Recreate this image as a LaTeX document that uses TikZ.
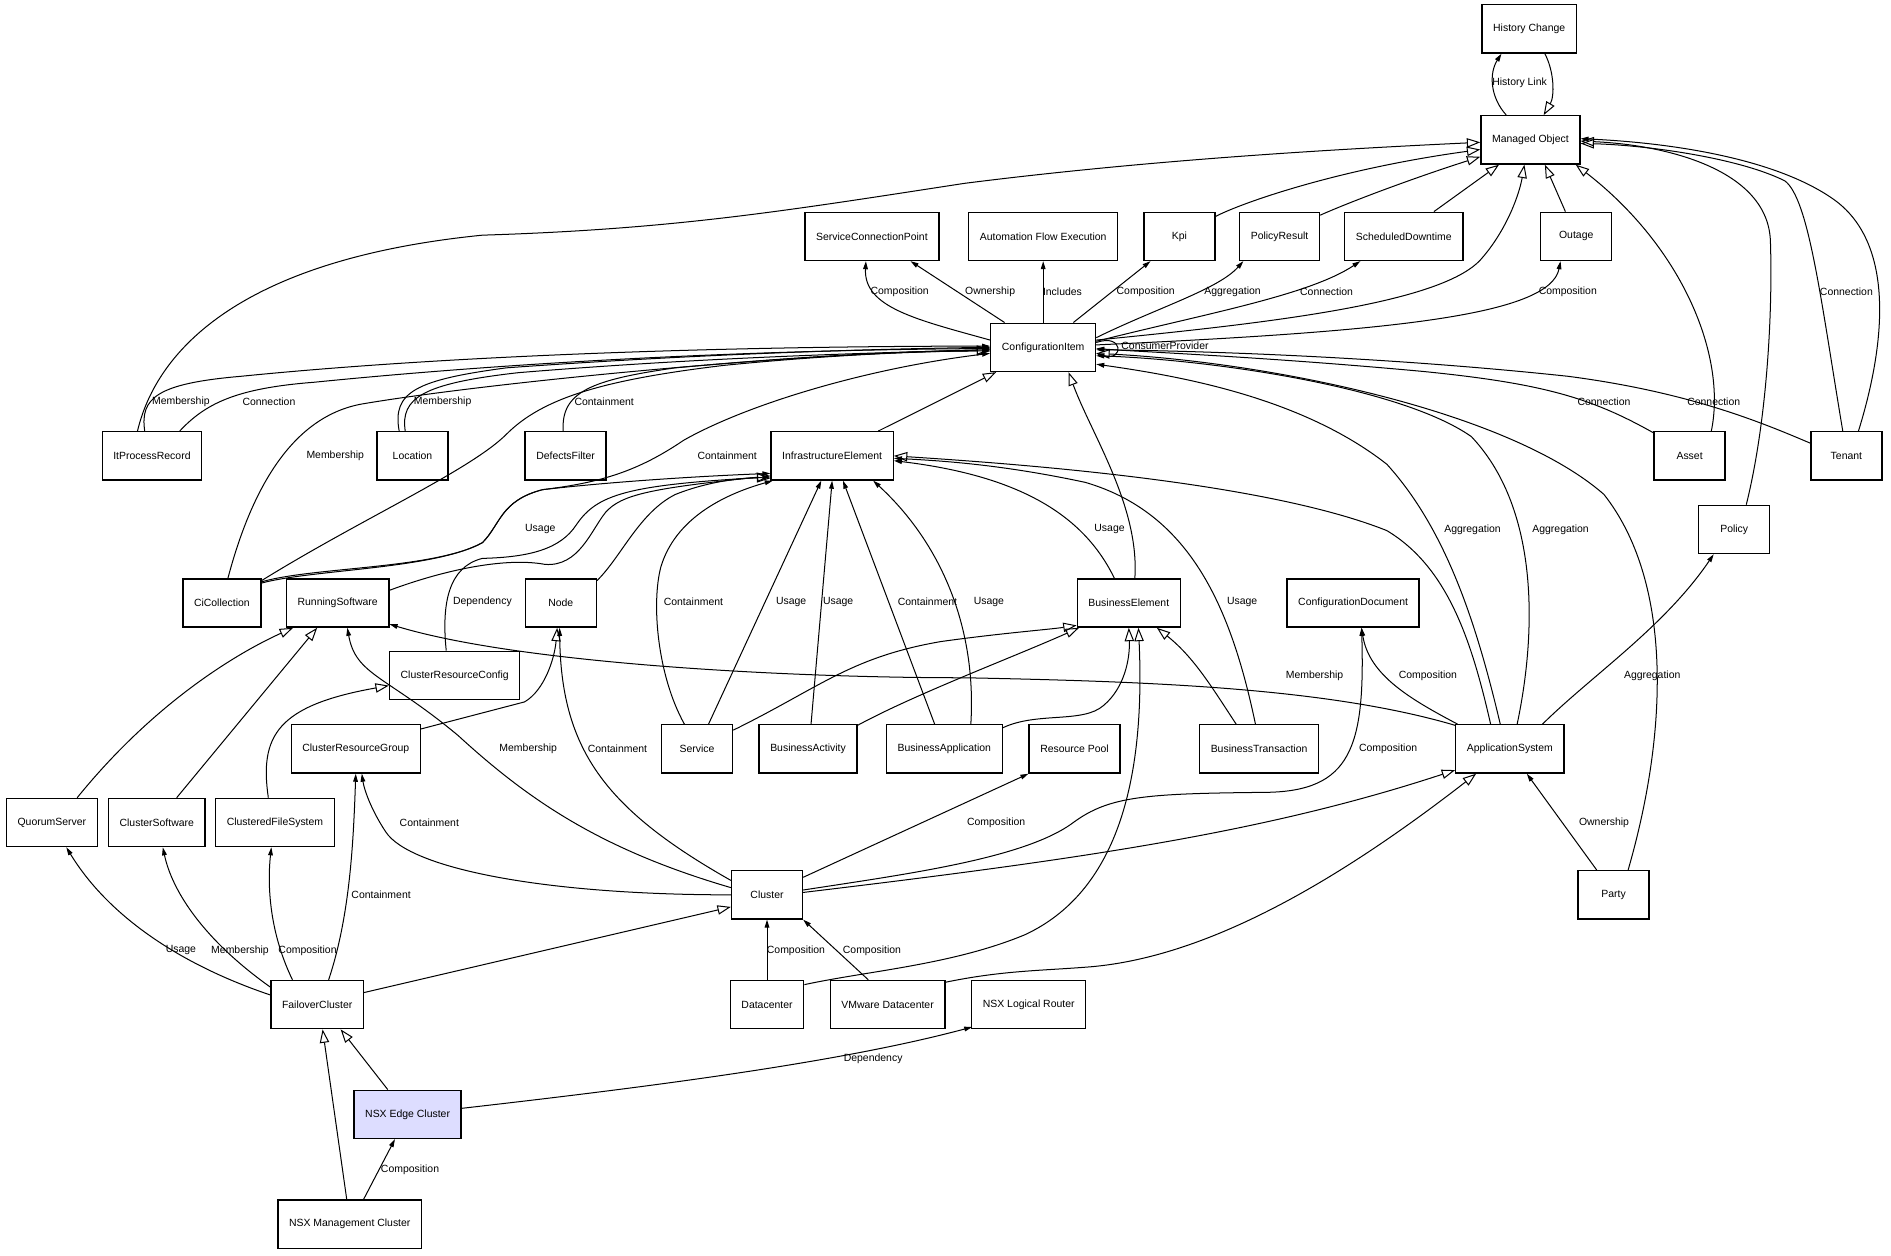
\documentclass[tikz,border=0pt]{standalone}
\usepackage{fontspec}
\setmainfont{Liberation Sans}
\usepackage{tikz}
\usetikzlibrary{calc, positioning, arrows.meta}
\definecolor{nsxfill}{RGB}{221,221,255}

\begin{document}
\begin{tikzpicture}[x=0.9pt, y=-0.9pt,
  cls/.style={draw, line width=1pt, minimum width=53pt, minimum height=36pt, inner xsep=8.3pt, font=\fontsize{7.8}{9}\selectfont, text centered},
  gen/.style={-{Triangle[open, length=10pt, width=7pt]}, line width=0.75pt},
  assoc/.style={-{Triangle[length=6pt, width=3.5pt]}, line width=0.75pt},
  lbl/.style={font=\fontsize{7.8}{9}\selectfont, inner sep=1pt}]
\useasboundingbox (0,0) rectangle (1568,1041);
% nodes %
\node[cls] (hc) at (1268,24) {History Change};
\node[cls] (mo) at (1269,116) {Managed Object};
\node[cls] (scp) at (723,196) {ServiceConnectionPoint};
\node[cls] (afe) at (865,196) {Automation Flow Execution};
\node[cls] (kpi) at (978,196) {Kpi};
\node[cls] (pr) at (1061,196) {PolicyResult};
\node[cls] (sd) at (1164,196) {ScheduledDowntime};
\node[cls] (outage) at (1307,196) {Outage};
\node[cls] (ci) at (865,288) {ConfigurationItem};
\node[cls] (itpr) at (126,378) {ItProcessRecord};
\node[cls] (loc) at (342,378) {Location};
\node[cls] (df) at (469,378) {DefectsFilter};
\node[cls] (ie) at (690,378) {InfrastructureElement};
\node[cls] (asset) at (1401,378) {Asset};
\node[cls] (tenant) at (1531,378) {Tenant};
\node[cls] (policy) at (1438,439) {Policy};
\node[cls] (cic) at (184,500) {CiCollection};
\node[cls] (rs) at (280,500) {RunningSoftware};
\node[cls] (nde) at (465,500) {Node};
\node[cls] (be) at (936,500) {BusinessElement};
\node[cls] (cd) at (1122,500) {ConfigurationDocument};
\node[cls] (crc) at (377,560) {ClusterResourceConfig};
\node[cls] (crg) at (295,621) {ClusterResourceGroup};
\node[cls] (svc) at (578,621) {Service};
\node[cls] (ba) at (670,621) {BusinessActivity};
\node[cls] (bapp) at (783,621) {BusinessApplication};
\node[cls] (rp) at (891,621) {Resource Pool};
\node[cls] (bt) at (1044,621) {BusinessTransaction};
\node[cls] (appsys) at (1252,621) {ApplicationSystem};
\node[cls] (qs) at (43,682) {QuorumServer};
\node[cls] (cs) at (130,682) {ClusterSoftware};
\node[cls] (cfs) at (228,682) {ClusteredFileSystem};
\node[cls] (cl) at (636,742) {Cluster};
\node[cls] (party) at (1338,742) {Party};
\node[cls] (fc) at (263,833) {FailoverCluster};
\node[cls] (dc) at (636,833) {Datacenter};
\node[cls] (vdc) at (736,833) {VMware Datacenter};
\node[cls] (nlr) at (853,833) {NSX Logical Router};
\node[cls, fill=nsxfill] (nec) at (338,924) {NSX Edge Cluster};
\node[cls] (nmc) at (290,1015) {NSX Management Cluster};
% edges: managed object %
\draw[gen] ($(hc.south)+(13,0)$) .. controls (1289,60) and (1289,80) .. ($(mo.north)+(11,0)$);
\draw[assoc] ($(mo.north)+(-20,0)$) .. controls (1235,80) and (1235,60) .. ($(hc.south)+(-23,0)$);
\draw[gen] ($(itpr.north)+(-12,0)$) .. controls (130,290) and (200,215) .. (400,195) .. controls (560,190) and (650,175) .. (800,152) .. controls (950,133) and (1100,124) .. ($(mo.west)+(0,2)$);
\draw[gen] ($(kpi.north east)+(0,4)$) .. controls (1030,168) and (1110,140) .. ($(mo.west)+(0,8)$);
\draw[gen] ($(pr.north east)+(0,3)$) .. controls (1125,165) and (1180,145) .. ($(mo.west)+(0,14)$);
\draw[gen] ($(sd.north)+(25,0)$) -- ($(mo.south)+(-26,0)$);
\draw[gen] ($(ci.east)+(0,-6)$) .. controls (1050,268) and (1195,252) .. (1228,215) .. controls (1250,190) and (1260,160) .. ($(mo.south)+(-5,0)$);
\draw[gen] ($(outage.north)+(-9,0)$) -- ($(mo.south)+(12,0)$);
\draw[gen] ($(asset.north)+(18,0)$) .. controls (1432,295) and (1395,205) .. ($(mo.south east)+(-4,0)$);
\draw[gen] ($(policy.north)+(10,0)$) .. controls (1465,350) and (1470,260) .. (1468,200) .. controls (1466,140) and (1380,120) .. ($(mo.east)+(0,1)$);
\draw[gen] ($(tenant.north)+(-3,0)$) .. controls (1510,250) and (1500,165) .. (1480,150) .. controls (1440,130) and (1360,120) .. ($(mo.east)+(0,3)$);
\draw[assoc] ($(tenant.north)+(10,0)$) .. controls (1565,280) and (1570,200) .. (1520,165) .. controls (1470,130) and (1380,118) .. ($(mo.east)+(0,-1)$);
% edges: configuration item, top %
\draw[assoc] ($(ci.west)+(0,-6)$) .. controls (760,265) and (716,255) .. ($(scp.south)+(-5,0)$);
\draw[assoc] ($(ci.north)+(-32,0)$) -- ($(scp.south)+(32,0)$);
\draw[assoc] (ci.north) -- (afe.south);
\draw[assoc] ($(ci.north)+(25,0)$) -- ($(kpi.south)+(-24,0)$);
\draw[assoc] ($(ci.east)+(0,-8)$) .. controls (960,255) and (1010,240) .. ($(pr.south)+(-30,0)$);
\draw[assoc] ($(ci.east)+(0,-5)$) .. controls (1000,260) and (1085,245) .. ($(sd.south)+(-36,0)$);
\draw[assoc] ($(ci.east)+(0,-2)$) .. controls (1150,275) and (1285,262) .. ($(outage.south)+(-13,0)$);
\draw[assoc] ($(ci.east)+(0,-4)$) .. controls (932,276) and (932,300) .. ($(ci.east)+(0,5)$);
% edges: configuration item, left %
\draw[assoc] ($(itpr.north)+(-6,0)$) .. controls (116,330) and (130,318) .. (200,312) .. controls (400,292) and (650,287) .. ($(ci.west)+(0,-1)$);
\draw[assoc] ($(itpr.north)+(23,0)$) .. controls (170,335) and (195,322) .. (260,317) .. controls (450,298) and (650,290) .. ($(ci.west)+(0,1)$);
\draw[assoc] ($(cic.north)+(5,0)$) .. controls (210,400) and (245,345) .. (300,335) .. controls (400,318) and (650,293) .. ($(ci.west)+(0,2)$);
\draw[gen] ($(cic.north east)+(0,2)$) .. controls (300,430) and (390,390) .. (420,360) .. controls (450,330) and (500,315) .. (600,303) .. controls (700,293) and (780,291) .. ($(ci.west)+(0,3)$);
\draw[assoc] ($(loc.north)+(-11,0)$) .. controls (325,325) and (345,315) .. (420,305) .. controls (600,292) and (750,289) .. (ci.west);
\draw[gen] ($(loc.north)+(-6,0)$) .. controls (332,330) and (350,318) .. (430,309) .. controls (600,295) and (750,292) .. ($(ci.west)+(0,2)$);
\draw[assoc] ($(df.north)+(-2,0)$) .. controls (465,325) and (490,315) .. (560,305) .. controls (680,294) and (760,291) .. ($(ci.west)+(0,3)$);
\draw[assoc] ($(cic.north east)+(0,3)$) .. controls (260,470) and (360,472) .. (400,450) .. controls (415,435) and (415,415) .. (450,406) .. controls (500,400) and (530,390) .. (567,365) .. controls (620,335) and (720,305) .. ($(ci.west)+(0,5)$);
\draw[gen] ($(ie.north east)+(-13,0)$) -- ($(ci.south west)+(5,0)$);
\draw[gen] ($(be.north)+(5,0)$) .. controls (945,420) and (905,360) .. ($(ci.south)+(21,0)$);
% edges: configuration item, right %
\draw[assoc] ($(asset.north west)+(1,2)$) .. controls (1320,330) and (1280,318) .. (1180,308) .. controls (1050,296) and (950,292) .. ($(ci.east)+(0,1)$);
\draw[assoc] ($(tenant.north west)+(0,10)$) .. controls (1460,350) and (1400,325) .. (1300,312) .. controls (1150,296) and (1000,291) .. ($(ci.east)+(0,2)$);
\draw[assoc] ($(appsys.north)+(-8,0)$) .. controls (1225,520) and (1200,440) .. (1150,385) .. controls (1080,330) and (980,312) .. ($(ci.east)+(0,14)$);
\draw[assoc] ($(appsys.north)+(6,0)$) .. controls (1275,520) and (1275,420) .. (1220,362) .. controls (1160,320) and (1000,298) .. ($(ci.east)+(0,7)$);
\draw[gen] ($(party.north)+(12,0)$) .. controls (1385,600) and (1385,480) .. (1330,410) .. controls (1250,340) and (1050,300) .. ($(ci.east)+(0,5)$);
% edges: infrastructure element %
\draw[assoc] ($(cic.north east)+(0,4)$) .. controls (260,472) and (360,472) .. (400,450) .. controls (415,435) and (415,415) .. (450,406) .. controls (520,398) and (600,394) .. ($(ie.south west)+(0,-6)$);
\draw[gen] ($(rs.north east)+(0,10)$) .. controls (370,472) and (420,462) .. (452,468) .. controls (480,470) and (490,440) .. (502,425) .. controls (515,410) and (540,405) .. ($(ie.south west)+(0,-4)$);
\draw[assoc] ($(crc.north)+(-7,0)$) .. controls (366,500) and (372,470) .. (400,463) .. controls (440,462) and (465,455) .. (478,435) .. controls (495,410) and (520,402) .. ($(ie.south west)+(0,-3)$);
\draw[gen] ($(nde.north east)+(0,2)$) .. controls (515,462) and (530,425) .. (560,410) .. controls (590,398) and (620,396) .. ($(ie.south west)+(0,-2)$);
\draw[assoc] ($(svc.north)+(-10.5,0)$) .. controls (545,560) and (540,500) .. (548,470) .. controls (560,430) and (600,410) .. ($(ie.south west)+(2,0)$);
\draw[assoc] ($(svc.north)+(9.5,0)$) -- ($(ie.south)+(-9,0)$);
\draw[assoc] ($(ba.north)+(2.5,0)$) -- (ie.south);
\draw[assoc] ($(bapp.north)+(-8,0)$) -- ($(ie.south)+(9,0)$);
\draw[assoc] ($(bapp.north)+(22,0)$) .. controls (810,520) and (780,450) .. ($(ie.south)+(34,0)$);
\draw[assoc] ($(be.north)+(-12,0)$) .. controls (900,430) and (850,395) .. ($(ie.east)+(0,4)$);
\draw[assoc] ($(bt.north)+(-3,0)$) .. controls (1020,500) and (985,425) .. (900,400) .. controls (830,385) and (780,382) .. ($(ie.east)+(0,2)$);
\draw[gen] ($(appsys.north)+(-16,0)$) .. controls (1220,530) and (1200,470) .. (1150,440) .. controls (1050,400) and (850,385) .. (ie.east);
% edges: running software, node, cluster resources %
\draw[gen] ($(qs.north)+(21,0)$) .. controls (130,580) and (200,540) .. ($(rs.south)+(-37,0)$);
\draw[gen] ($(cs.north)+(16.5,0)$) -- ($(rs.south)+(-17,0)$);
\draw[assoc] ($(cl.west)+(0,-6)$) .. controls (500,705) and (440,665) .. (380,610) .. controls (320,560) and (295,560) .. ($(rs.south)+(8,0)$);
\draw[assoc] ($(appsys.north west)+(0,1)$) .. controls (1100,570) and (950,565) .. (800,562) .. controls (650,562) and (430,550) .. ($(rs.south east)+(0,-3)$);
\draw[assoc] ($(cl.west)+(0,-12)$) .. controls (500,670) and (465,620) .. ($(nde.south)+(-1,0)$);
\draw[gen] ($(crg.north east)+(0,4)$) -- (435,582) .. controls (452,572) and (460,545) .. ($(nde.south)+(-3,0)$);
\draw[gen] ($(cfs.north)+(-5.5,0)$) .. controls (215,610) and (230,585) .. ($(crc.west)+(0,8.5)$);
\draw[assoc] (cl.west) .. controls (450,742) and (340,720) .. (320,690) .. controls (308,672) and (302,655) .. ($(crg.south)+(5,0)$);
\draw[assoc] ($(fc.north)+(9.5,0)$) .. controls (290,760) and (293,700) .. (crg.south);
% edges: failover cluster %
\draw[assoc] ($(fc.west)+(0,-8)$) .. controls (150,800) and (90,760) .. ($(qs.south)+(12,0)$);
\draw[assoc] ($(fc.north west)+(0,6)$) .. controls (170,780) and (143,740) .. ($(cs.south)+(5,0)$);
\draw[assoc] ($(fc.north)+(-20.5,0)$) .. controls (222,770) and (222,730) .. ($(cfs.south)+(-3,0)$);
\draw[gen] ($(fc.east)+(0,-10)$) -- ($(cl.west)+(0,10)$);
\draw[gen] ($(nec.north)+(-16.5,0)$) -- ($(fc.south)+(19.5,0)$);
\draw[gen] ($(nmc.north)+(-2.5,0)$) -- ($(fc.south)+(4.5,0)$);
\draw[assoc] ($(nmc.north)+(11.5,0)$) -- ($(nec.south)+(-10.5,0)$);
\draw[assoc] ($(nec.east)+(0,-5)$) .. controls (550,900) and (700,880) .. ($(nlr.south west)+(1,-2)$);
% edges: cluster %
\draw[assoc] ($(cl.north east)+(0,6)$) -- (rp.south west);
\draw[assoc] ($(cl.east)+(0,-4)$) .. controls (750,725) and (850,712) .. (890,682) .. controls (920,660) and (950,658) .. (1050,657) .. controls (1120,656) and (1132,620) .. ($(cd.south)+(7,0)$);
\draw[gen] ($(cl.east)+(0,-2)$) .. controls (900,712) and (1050,690) .. ($(appsys.south west)+(0,-3)$);
\draw[assoc] (dc.north) -- (cl.south);
\draw[assoc] ($(vdc.north)+(-16,0)$) -- (cl.south east);
\draw[gen] ($(dc.north east)+(0,4)$) .. controls (720,805) and (790,800) .. (850,775) .. controls (925,740) and (950,650) .. ($(be.south)+(8,0)$);
\draw[gen] ($(vdc.north east)+(0,2)$) .. controls (830,805) and (860,805) .. (900,802) .. controls (1000,795) and (1110,730) .. ($(appsys.south)+(-28,0)$);
% edges: business element, application system %
\draw[gen] ($(svc.north east)+(0,5)$) .. controls (680,570) and (705,545) .. (780,532) .. controls (830,525) and (870,522) .. ($(be.south west)+(0,-2)$);
\draw[gen] ($(ba.north east)+(0,1)$) .. controls (760,575) and (840,545) .. ($(be.south west)+(2,0)$);
\draw[gen] ($(bapp.north east)+(0,3)$) .. controls (860,590) and (898,600) .. (915,585) .. controls (933,570) and (937,545) .. (be.south);
\draw[gen] ($(bt.north)+(-19,0)$) .. controls (1005,570) and (990,545) .. ($(be.south east)+(-20,0)$);
\draw[assoc] ($(appsys.north west)+(2,0)$) .. controls (1170,580) and (1135,560) .. ($(cd.south)+(7,0)$);
\draw[assoc] ($(appsys.north)+(27,0)$) .. controls (1320,560) and (1380,520) .. ($(policy.south)+(-17,0)$);
\draw[assoc] ($(party.north)+(-14,0)$) -- ($(appsys.south)+(14,0)$);
% labels %
\node[lbl] (lhist) at (1260,69) {History Link};
\node[lbl] (lcomp1) at (746,242) {Composition};
\node[lbl] (lown1) at (821,242) {Ownership};
\node[lbl] (lincl) at (881,242) {Includes};
\node[lbl] (lcomp2) at (950,242) {Composition};
\node[lbl] (laggr1) at (1022,242) {Aggregation};
\node[lbl] (lconn1) at (1100,242) {Connection};
\node[lbl] (lcomp3) at (1300,242) {Composition};
\node[lbl] (lconn2) at (1531,242) {Connection};
\node[lbl] (lcons) at (966,287) {ConsumerProvider};
\node[lbl] (lmemb1) at (150,333) {Membership};
\node[lbl] (lconn3) at (223,333) {Connection};
\node[lbl] (lmemb2) at (367,333) {Membership};
\node[lbl] (lcont1) at (501,333) {Containment};
\node[lbl] (lconn4) at (1330,333) {Connection};
\node[lbl] (lconn5) at (1421,333) {Connection};
\node[lbl] (lmemb3) at (278,378) {Membership};
\node[lbl] (lcont2) at (603,378) {Containment};
\node[lbl] (luse1) at (448,439) {Usage};
\node[lbl] (luse2) at (920,439) {Usage};
\node[lbl] (laggr2) at (1221,439) {Aggregation};
\node[lbl] (laggr3) at (1294,439) {Aggregation};
\node[lbl] (ldep1) at (400,499) {Dependency};
\node[lbl] (lcont3) at (575,499) {Containment};
\node[lbl] (luse3) at (656,499) {Usage};
\node[lbl] (luse4) at (695,499) {Usage};
\node[lbl] (lcont4) at (769,499) {Containment};
\node[lbl] (luse5) at (820,499) {Usage};
\node[lbl] (luse6) at (1030,499) {Usage};
\node[lbl] (lmemb4) at (1090,560) {Membership};
\node[lbl] (lcomp4) at (1184,560) {Composition};
\node[lbl] (laggr4) at (1370,560) {Aggregation};
\node[lbl] (lmemb5) at (438,621) {Membership};
\node[lbl] (lcont5) at (512,621) {Containment};
\node[lbl] (lcomp5) at (1151,621) {Composition};
\node[lbl] (lcont6) at (356,682) {Containment};
\node[lbl] (lcomp6) at (826,682) {Composition};
\node[lbl] (lown2) at (1330,682) {Ownership};
\node[lbl] (lcont7) at (316,742) {Containment};
\node[lbl] (luse7) at (150,788) {Usage};
\node[lbl] (lmemb6) at (199,788) {Membership};
\node[lbl] (lcomp7) at (255,788) {Composition};
\node[lbl] (lcomp8) at (660,788) {Composition};
\node[lbl] (lcomp9) at (723,788) {Composition};
\node[lbl] (ldep2) at (724,878) {Dependency};
\node[lbl] (lcomp10) at (340,970) {Composition};
\end{tikzpicture}
\end{document}
